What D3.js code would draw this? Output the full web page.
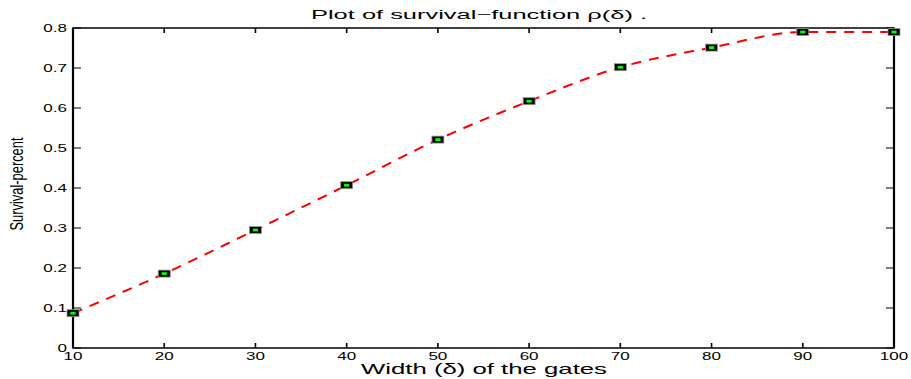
<!DOCTYPE html>
<html>
<head>
<meta charset="utf-8">
<script src="https://cdn.jsdelivr.net/npm/d3@7/dist/d3.min.js"></script>
<style>
  html, body { margin: 0; padding: 0; background: #fff; }
  svg { display: block; }
  text { font-family: "Liberation Sans", Arial, Helvetica, sans-serif; fill: #000; }
</style>
</head>
<body>
<svg id="chart" width="911" height="379"></svg>
<script>
// Gate width (δ) and measured survival fraction ρ(δ)
const widths = [10, 20, 30, 40, 50, 60, 70, 80, 90, 100];
const survival = [0.087, 0.186, 0.295, 0.407, 0.521, 0.617, 0.702, 0.751, 0.790, 0.790];

const xTicks = [10, 20, 30, 40, 50, 60, 70, 80, 90, 100];
const yTicks = [0, 0.1, 0.2, 0.3, 0.4, 0.5, 0.6, 0.7, 0.8];
const yTickLabels = ["0", "0.1", "0.2", "0.3", "0.4", "0.5", "0.6", "0.7", "0.8"];

const titleText = "Plot of survival\u2212function \u03c1(\u03b4) .";
const xLabelText = "Width (\u03b4) of the gates";
const yLabelText = "Survival-percent";

const svg = d3.select("#chart");
const plot = { left: 73, right: 894, top: 28, bottom: 348 };
const stretch = 1.7; // horizontal widening of the glyphs

const x = d3.scaleLinear().domain([10, 100]).range([plot.left, plot.right]);
const y = d3.scaleLinear().domain([0, 0.8]).range([plot.bottom, plot.top]);

// widen a text element horizontally while keeping its height
function widen(sel, factor) {
  sel.each(function () {
    const w = this.getComputedTextLength();
    d3.select(this).attr("textLength", w * factor).attr("lengthAdjust", "spacingAndGlyphs");
  });
}

// ticks, pointing inward on all four sides
const tickG = svg.append("g").attr("stroke", "#000").attr("fill", "none");
tickG.selectAll(".xb").data(xTicks).join("line")
  .attr("x1", d => x(d)).attr("x2", d => x(d))
  .attr("y1", plot.bottom).attr("y2", plot.bottom - 5).attr("stroke-width", 1.6);
tickG.selectAll(".xt").data(xTicks).join("line")
  .attr("x1", d => x(d)).attr("x2", d => x(d))
  .attr("y1", plot.top).attr("y2", plot.top + 5).attr("stroke-width", 1.6);
tickG.selectAll(".yl").data(yTicks).join("line")
  .attr("x1", plot.left).attr("x2", plot.left + 8)
  .attr("y1", d => y(d)).attr("y2", d => y(d)).attr("stroke-width", 1);
tickG.selectAll(".yr").data(yTicks).join("line")
  .attr("x1", plot.right).attr("x2", plot.right - 8)
  .attr("y1", d => y(d)).attr("y2", d => y(d)).attr("stroke-width", 1);

// axes box: vertical sides drawn heavier than horizontal ones
const box = svg.append("g").attr("stroke", "#000");
box.append("line").attr("x1", plot.left).attr("x2", plot.right)
  .attr("y1", plot.top).attr("y2", plot.top).attr("stroke-width", 1.3);
box.append("line").attr("x1", plot.left).attr("x2", plot.right)
  .attr("y1", plot.bottom).attr("y2", plot.bottom).attr("stroke-width", 1.3);
box.append("line").attr("x1", plot.left).attr("x2", plot.left)
  .attr("y1", plot.top - 0.6).attr("y2", plot.bottom + 0.6).attr("stroke-width", 2.2);
box.append("line").attr("x1", plot.right).attr("x2", plot.right)
  .attr("y1", plot.top - 0.6).attr("y2", plot.bottom + 0.6).attr("stroke-width", 2.2);

// tick labels
svg.append("g").selectAll("text").data(xTicks).join("text")
  .attr("x", d => x(d)).attr("y", plot.bottom + 11.5)
  .attr("text-anchor", "middle").attr("font-size", 10)
  .text(d => d).call(widen, stretch);
svg.append("g").selectAll("text").data(yTicks).join("text")
  .attr("x", plot.left - 6).attr("y", d => y(d) + 3.6)
  .attr("text-anchor", "end").attr("font-size", 10)
  .text((d, i) => yTickLabels[i]).call(widen, stretch);

// fitted survival curve
const line = d3.line()
  .x((d, i) => x(widths[i]))
  .y(d => y(d))
  .curve(d3.curveMonotoneX);
svg.append("path").datum(survival)
  .attr("d", line)
  .attr("fill", "none").attr("stroke", "#ff0000")
  .attr("stroke-width", 2).attr("stroke-dasharray", "10,8");

// measured points: black squares with green centres
const marks = svg.append("g").selectAll("g").data(survival).join("g")
  .attr("transform", (d, i) => `translate(${x(widths[i])},${y(d)})`);
marks.append("rect").attr("x", -6).attr("y", -3.5).attr("width", 12).attr("height", 7)
  .attr("fill", "#000").attr("stroke", "#9a9a9a").attr("stroke-width", 0.8);
marks.append("rect").attr("x", -2.6).attr("y", -1.4).attr("width", 5.2).attr("height", 2.8)
  .attr("fill", "#00ff00");

// title and axis labels
svg.append("text").attr("x", 479).attr("y", 19).attr("text-anchor", "middle")
  .attr("font-size", 12.5).text(titleText)
  .attr("textLength", 336).attr("lengthAdjust", "spacingAndGlyphs");
svg.append("text").attr("x", 484).attr("y", 374).attr("text-anchor", "middle")
  .attr("font-size", 15).text(xLabelText)
  .attr("textLength", 246).attr("lengthAdjust", "spacingAndGlyphs");
svg.append("text")
  .attr("transform", "translate(23,184) rotate(-90)")
  .attr("text-anchor", "middle").attr("font-size", 17.5)
  .attr("textLength", 93).attr("lengthAdjust", "spacingAndGlyphs")
  .text(yLabelText);
</script>
</body>
</html>
